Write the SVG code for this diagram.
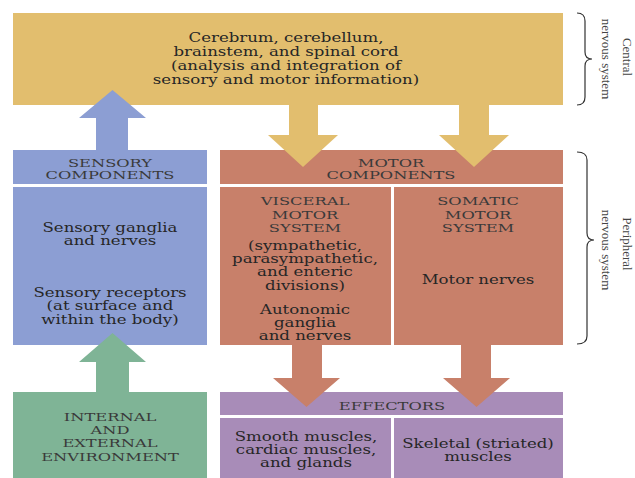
<svg xmlns="http://www.w3.org/2000/svg" width="635" height="478" viewBox="0 0 635 478">
<style>
.t{font-family:"DejaVu Serif","Liberation Serif",serif;font-size:12px;fill:#262626;text-anchor:middle}
.c{font-family:"DejaVu Serif","Liberation Serif",serif;font-size:11.8px;fill:#3a3a3a;text-anchor:middle}
.r{font-family:"Liberation Serif","DejaVu Serif",serif;font-size:13px;fill:#444;text-anchor:middle}
.brace{fill:none;stroke:#333;stroke-width:1.2}
.gold{fill:#E2BE6E}.blue{fill:#8C9ED3}.rust{fill:#C8806A}.green{fill:#7FB496}.purp{fill:#A88CB8}
</style>
<rect width="635" height="478" fill="#fff"/>
<g id="cns">
<rect class="gold" x="13" y="13" width="550" height="92"/>
<g transform="translate(286,0) scale(1.38,1)">
<text class="t" x="0" y="42">Cerebrum, cerebellum,</text>
<text class="t" x="0" y="56">brainstem, and spinal cord</text>
<text class="t" x="0" y="70">(analysis and integration of</text>
<text class="t" x="0" y="84">sensory and motor information)</text>
</g>
</g>
<g id="sensory">
<rect class="blue" x="13" y="150" width="194" height="34"/>
<rect class="blue" x="13" y="187" width="194" height="158"/>
<g transform="translate(110,0) scale(1.38,1)">
<text class="c" x="0" y="167.5">SENSORY</text>
<text class="c" x="0" y="179.5">COMPONENTS</text>
<text class="t" x="0" y="232">Sensory ganglia</text>
<text class="t" x="0" y="245">and nerves</text>
<text class="t" x="0" y="297">Sensory receptors</text>
<text class="t" x="0" y="310">(at surface and</text>
<text class="t" x="0" y="324">within the body)</text>
</g>
</g>
<g id="motor">
<rect class="rust" x="220" y="150" width="343" height="34"/>
<g transform="translate(391,0) scale(1.38,1)">
<text class="c" x="0" y="167.5">MOTOR</text>
<text class="c" x="0" y="179.5">COMPONENTS</text>
</g>
</g>
<g id="visceral">
<rect class="rust" x="220" y="187" width="171" height="158"/>
<g transform="translate(305,0) scale(1.38,1)">
<text class="c" x="0" y="205">VISCERAL</text>
<text class="c" x="0" y="219">MOTOR</text>
<text class="c" x="0" y="232">SYSTEM</text>
<text class="t" x="0" y="250">(sympathetic,</text>
<text class="t" x="0" y="263">parasympathetic,</text>
<text class="t" x="0" y="276">and enteric</text>
<text class="t" x="0" y="290">divisions)</text>
<text class="t" x="0" y="314">Autonomic</text>
<text class="t" x="0" y="327">ganglia</text>
<text class="t" x="0" y="340">and nerves</text>
</g>
</g>
<g id="somatic">
<rect class="rust" x="394" y="187" width="169" height="158"/>
<g transform="translate(478,0) scale(1.38,1)">
<text class="c" x="0" y="205">SOMATIC</text>
<text class="c" x="0" y="219">MOTOR</text>
<text class="c" x="0" y="232">SYSTEM</text>
<text class="t" x="0" y="284">Motor nerves</text>
</g>
</g>
<g id="environment">
<rect class="green" x="13" y="392" width="194" height="86"/>
<g transform="translate(110,0) scale(1.38,1)">
<text class="c" x="0" y="421.5">INTERNAL</text>
<text class="c" x="0" y="434.5">AND</text>
<text class="c" x="0" y="447.5">EXTERNAL</text>
<text class="c" x="0" y="461.5">ENVIRONMENT</text>
</g>
</g>
<g id="effectors">
<rect class="purp" x="220" y="392" width="343" height="23"/>
<g transform="translate(392,0) scale(1.38,1)">
<text class="c" x="0" y="410.5">EFFECTORS</text>
</g>
</g>
<g id="smooth">
<rect class="purp" x="220" y="418" width="171" height="60"/>
<g transform="translate(306,0) scale(1.38,1)">
<text class="t" x="0" y="441">Smooth muscles,</text>
<text class="t" x="0" y="454">cardiac muscles,</text>
<text class="t" x="0" y="467">and glands</text>
</g>
</g>
<g id="skeletal">
<rect class="purp" x="394" y="418" width="169" height="60"/>
<g transform="translate(478,0) scale(1.38,1)">
<text class="t" x="0" y="448">Skeletal (striated)</text>
<text class="t" x="0" y="461">muscles</text>
</g>
</g>
<g id="connectors">
<polygon class="blue" points="96,150 96,118 79,118 112.5,90 146,118 128,118 128,150"/>
<polygon class="gold" points="289,104 318,104 318,135 338,135 303,167 268,135 289,135"/>
<polygon class="gold" points="459,104 489,104 489,135 509,135 474,167 439,135 459,135"/>
<polygon class="rust" points="292,344 322,344 322,378 340,378 306.5,407 273,378 292,378"/>
<polygon class="rust" points="461,344 491,344 491,378 510,378 476.5,407 443,378 461,378"/>
<polygon class="green" points="96,393 96,362 79,362 112.5,333 146,362 129,362 129,393"/>
</g>
<g id="cns-label">
<path class="brace" d="M577,13 Q585,13 585,21 L585,52 Q585,59 592,59 Q585,59 585,66 L585,97 Q585,105 577,105"/>
<text class="r" transform="translate(623,57) rotate(90)">Central</text>
<text class="r" transform="translate(602,59) rotate(90)">nervous system</text>
</g>
<g id="pns-label">
<path class="brace" d="M577,152 Q587,152 587,160 L587,233 Q587,240 594,240 Q587,240 587,247 L587,336 Q587,344 577,344"/>
<text class="r" transform="translate(623,244) rotate(90)">Peripheral</text>
<text class="r" transform="translate(602,250) rotate(90)">nervous system</text>
</g>
</svg>
